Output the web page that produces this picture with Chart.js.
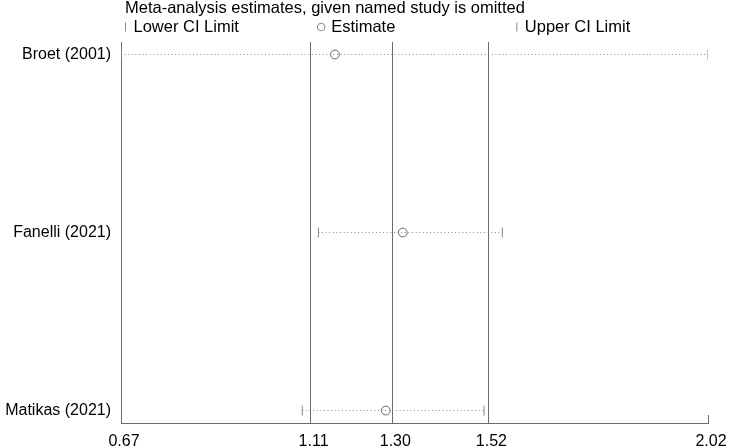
<!DOCTYPE html>
<html>
<head>
<meta charset="utf-8">
<script src="https://cdn.jsdelivr.net/npm/chart.js@4"></script>
<style>
  html, body { margin: 0; padding: 0; background: #fff; }
  #wrap { width: 730px; height: 448px; }
</style>
</head>
<body>
<div id="wrap"><canvas id="chart" width="730" height="448"></canvas></div>
<script>
const studies = ['Broet (2001)', 'Fanelli (2021)', 'Matikas (2021)'];
const lowerCI = [0.67, 1.124, 1.087];
const estimate = [1.162, 1.318, 1.279];
const upperCI = [2.02, 1.547, 1.505];
const tickValues = [0.67, 1.106, 1.294, 1.515, 2.02];
const tickLabels = ['0.67', '1.11', '1.30', '1.52', '2.02'];

const titleText = 'Meta-analysis estimates, given named study is omitted';
const legendItems = ['Lower CI Limit', 'Estimate', 'Upper CI Limit'];

const FONT = "'Liberation Sans', Arial, sans-serif";
const lineGray = '#6b6b6b';
const dotGray = '#8a8a8a';

// dotted CI line for each study
const ciLines = studies.map((s, i) => ({
    type: 'line',
    data: [{ x: lowerCI[i], y: i }, { x: upperCI[i], y: i }],
    borderColor: dotGray,
    borderWidth: 1,
    borderDash: [1, 2.6],
    pointRadius: 0,
    showLine: true
}));

// title + three column legend, Stata style
const headerPlugin = {
    id: 'header',
    afterDraw(chart) {
        const ctx = chart.ctx;
        const area = chart.chartArea;
        ctx.save();
        ctx.fillStyle = '#000';
        ctx.font = '16.5px ' + FONT;
        ctx.textBaseline = 'middle';
        ctx.textAlign = 'left';
        ctx.fillText(titleText, area.left + 4, 8.5);

        const colW = (area.right - area.left) / 3;
        const ly = 27;
        legendItems.forEach((txt, i) => {
            const mx = area.left + i * colW + 4.5;
            ctx.strokeStyle = dotGray;
            ctx.lineWidth = 1;
            ctx.beginPath();
            if (i === 1) {
                ctx.arc(mx, ly, 3.8, 0, Math.PI * 2);
                ctx.fillStyle = '#fff';
                ctx.fill();
                ctx.stroke();
            } else {
                ctx.moveTo(mx, ly - 4.5);
                ctx.lineTo(mx, ly + 4.5);
                ctx.stroke();
            }
            ctx.fillStyle = '#000';
            ctx.fillText(txt, mx + (i === 1 ? 10 : 8), ly);
        });

        // short tick at the last x value
        const xs = chart.scales.x;
        const px = Math.round(xs.getPixelForValue(tickValues[tickValues.length - 1])) + 0.5;
        ctx.strokeStyle = lineGray;
        ctx.beginPath();
        ctx.moveTo(px, area.bottom);
        ctx.lineTo(px, area.bottom - 8);
        ctx.stroke();
        ctx.restore();
    }
};

new Chart(document.getElementById('chart'), {
    type: 'scatter',
    data: {
        datasets: [
            ...ciLines,
            {
                label: 'Lower CI Limit',
                data: lowerCI.map((v, i) => ({ x: v, y: i })),
                pointStyle: 'line',
                pointRotation: 90,
                pointRadius: 5,
                borderColor: dotGray,
                borderWidth: 1
            },
            {
                label: 'Upper CI Limit',
                data: upperCI.map((v, i) => ({ x: v, y: i })),
                pointStyle: 'line',
                pointRotation: 90,
                pointRadius: 5,
                borderColor: dotGray,
                borderWidth: 1
            },
            {
                label: 'Estimate',
                data: estimate.map((v, i) => ({ x: v, y: i })),
                pointStyle: 'circle',
                pointRadius: 4.4,
                backgroundColor: '#fff',
                borderColor: '#666',
                borderWidth: 1
            }
        ]
    },
    options: {
        responsive: false,
        animation: false,
        events: [],
        layout: { padding: { top: 42, right: 22, bottom: 0, left: 0 } },
        plugins: {
            legend: { display: false },
            title: { display: false },
            tooltip: { enabled: false }
        },
        scales: {
            x: {
                type: 'linear',
                min: tickValues[0],
                max: tickValues[tickValues.length - 1],
                afterBuildTicks(scale) {
                    scale.ticks = tickValues.map(v => ({ value: v }));
                },
                afterFit(scale) {
                    scale.height = 25;
                    scale.paddingLeft = 0;
                    scale.paddingRight = 0;
                },
                ticks: {
                    autoSkip: false,
                    maxRotation: 0,
                    padding: 9,
                    labelOffset: 3,
                    color: '#000',
                    font: { family: FONT, size: 16 },
                    callback: (value, index) => tickLabels[index]
                },
                grid: {
                    drawTicks: false,
                    color: c => c.index === tickValues.length - 1 ? 'rgba(0,0,0,0)' : lineGray,
                    lineWidth: 1
                },
                border: { display: true, color: lineGray, width: 1 }
            },
            y: {
                type: 'linear',
                reverse: true,
                min: -0.07,
                max: studies.length - 1 + 0.07,
                afterBuildTicks(scale) {
                    scale.ticks = studies.map((s, i) => ({ value: i }));
                },
                afterFit(scale) { scale.width = 121; },
                ticks: {
                    padding: 10,
                    color: '#000',
                    font: { family: FONT, size: 16 },
                    callback: value => studies[value]
                },
                grid: { display: false, drawTicks: false },
                border: { display: true, color: lineGray, width: 1 }
            }
        }
    },
    plugins: [headerPlugin]
});
</script>
</body>
</html>
